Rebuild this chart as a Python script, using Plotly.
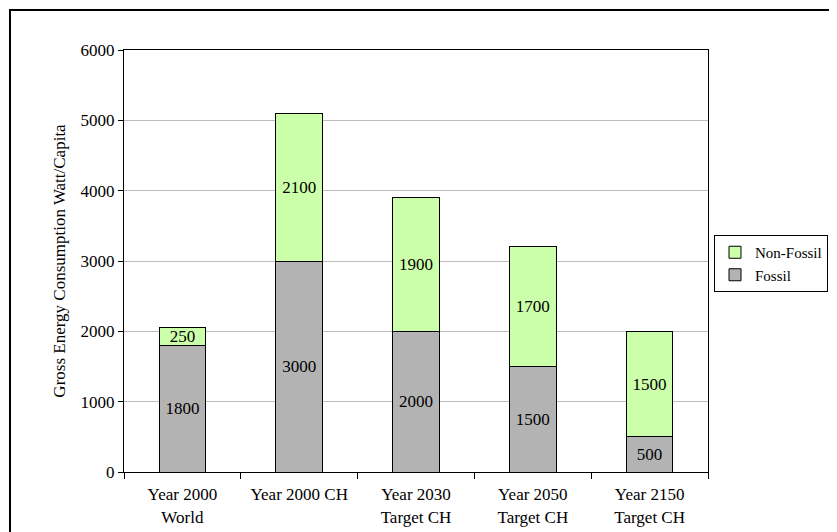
import plotly.graph_objects as go

categories = ["Year 2000<br>World", "Year 2000 CH", "Year 2030<br>Target CH",
              "Year 2050<br>Target CH", "Year 2150<br>Target CH"]
fossil = [1800, 3000, 2000, 1500, 500]
non_fossil = [250, 2100, 1900, 1700, 1500]
y_ticks = [0, 1000, 2000, 3000, 4000, 5000, 6000]

FONT = "Liberation Serif, Times New Roman, serif"
W, H = 837, 532
OFF = 8  # page body margin
L, R, T, B = 124, 708, 50, 472  # desired plot area in screen pixels

fig = go.Figure()
fig.add_trace(go.Bar(
    x=categories, y=fossil, name="Fossil",
    marker=dict(color="#B3B3B3", line=dict(color="black", width=1)),
    text=[str(v) for v in fossil], textposition="inside",
    insidetextanchor="middle", textangle=0, constraintext="none",
    textfont=dict(family=FONT, size=17, color="black"),
))
fig.add_trace(go.Bar(
    x=categories, y=non_fossil, name="Non-Fossil",
    marker=dict(color="#CCFFAA", line=dict(color="black", width=1)),
    text=[str(v) for v in non_fossil], textposition="inside",
    insidetextanchor="middle", textangle=0, constraintext="none",
    textfont=dict(family=FONT, size=17, color="black"),
))

pw, ph = R - L, B - T
def px_x(x):
    return (x - L) / pw
def px_y(y):
    return (B - y) / ph

ml, mt = L - OFF, T - OFF
fig.update_layout(
    width=W, height=H,
    margin=dict(l=ml, r=W - ml - pw, t=mt, b=H - mt - ph, autoexpand=False),
    barmode="stack", bargap=0.6,
    paper_bgcolor="white", plot_bgcolor="white",
    font=dict(family=FONT, size=17, color="black"),
    showlegend=True,
    legend=dict(
        x=px_x(714), y=px_y(235), xanchor="left", yanchor="top",
        bordercolor="black", borderwidth=1, bgcolor="white",
        font=dict(family=FONT, size=15, color="black"),
        traceorder="reversed", itemwidth=30, tracegroupgap=0,
    ),
    shapes=[dict(
        type="rect", xref="paper", yref="paper",
        x0=px_x(10), x1=px_x(860), y0=px_y(560), y1=px_y(10),
        line=dict(color="black", width=2), fillcolor="rgba(0,0,0,0)",
        layer="below",
    )],
)
fig.update_xaxes(
    showline=True, linecolor="black", linewidth=1, mirror=True,
    ticks="outside", tickson="boundaries", ticklen=6, tickcolor="black",
    showgrid=False, ticklabelstandoff=7,
    tickfont=dict(family=FONT, size=17, color="black"),
)
fig.update_yaxes(
    range=[0, 6000], tickvals=y_ticks, ticktext=[str(v) for v in y_ticks],
    showline=True, linecolor="black", linewidth=1, mirror=True,
    ticks="outside", ticklen=5, tickcolor="black",
    showgrid=True, gridcolor="#BDBDBD", gridwidth=1,
    zeroline=False,
    tickfont=dict(family=FONT, size=17, color="black"),
    title=dict(text="Gross Energy Consumption Watt/Capita",
               font=dict(family=FONT, size=17, color="black"), standoff=10),
)

fig.write_html("out.html")
